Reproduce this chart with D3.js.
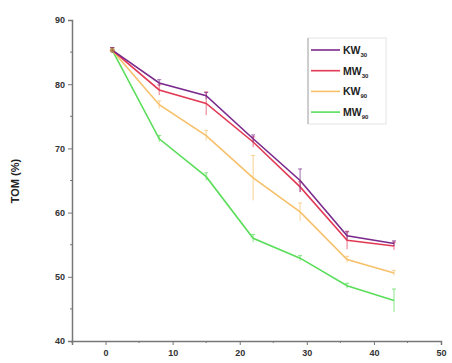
<!DOCTYPE html>
<html>
<head>
<meta charset="utf-8">
<script src="https://cdn.jsdelivr.net/npm/d3@7"></script>
<style>
  body { margin: 0; background: #fff; }
  text { font-family: "Liberation Sans", Arial, sans-serif; }
</style>
</head>
<body>
<div id="chart"></div>
<script>
// data
var days = [1, 8, 15, 22, 29, 36, 43]
var seriesNames = ["KW", "MW", "KW", "MW"]
var seriesSubs = ["30", "30", "90", "90"]
var kw30 = [85.3, 80.2, 78.2, 71.5, 65.0, 56.4, 55.2]
var mw30 = [85.3, 79.1, 77.0, 71.0, 64.0, 55.7, 54.8]
var kw90 = [85.3, 76.8, 72.0, 65.4, 60.1, 52.7, 50.6]
var mw90 = [85.3, 71.5, 65.6, 56.0, 52.9, 48.6, 46.3]
var kw30err = [0.4, 0.5, 0.5, 0.6, 1.8, 0.6, 0.4]
var mw30err = [0.4, 0.8, 1.8, 0.8, 0.8, 1.4, 0.6]
var kw90err = [0.4, 0.6, 0.8, 3.5, 1.4, 0.5, 0.4]
var mw90err = [0.4, 0.5, 0.6, 0.6, 0.4, 0.4, 1.8]
var colors = ["#7a2a8c", "#e23a55", "#f7c06a", "#5ade5a"]
var xTicks = [0, 10, 20, 30, 40, 50]
var yTicks = [40, 50, 60, 70, 80, 90]

var width = 452
    height = 363

var svg = d3.select("#chart")
    .append("svg")
        .attr("width", width)
        .attr("height", height)

var x = d3.scaleLinear().domain([-5, 50]).range([72, 441])
var y = d3.scaleLinear().domain([40, 90]).range([341, 20])

var axisColor = "#777"

// y axis
var yAxis = svg.append("g")
    .attr("transform", "translate(72,0)")
    .call(d3.axisLeft(y).tickValues(yTicks).tickSize(4).tickPadding(3))
yAxis.append("g").selectAll("line")
    .data([45, 55, 65, 75, 85])
    .enter().append("line")
        .attr("x1", -2).attr("x2", 0)
        .attr("y1", function(d){ return y(d) })
        .attr("y2", function(d){ return y(d) })

// x axis
var xAxis = svg.append("g")
    .attr("transform", "translate(0,341)")
    .call(d3.axisBottom(x).tickValues(xTicks).tickSize(4).tickPadding(5))
xAxis.append("g").selectAll("line")
    .data([-5, 5, 15, 25, 35, 45])
    .enter().append("line")
        .attr("y1", 0).attr("y2", 2)
        .attr("x1", function(d){ return x(d) })
        .attr("x2", function(d){ return x(d) })

svg.selectAll(".domain").attr("stroke", axisColor).attr("stroke-width", 1.5)
svg.selectAll(".tick line").attr("stroke", axisColor)
svg.selectAll("g g line").attr("stroke", axisColor)
svg.selectAll(".tick text")
    .attr("font-size", "9px")
    .attr("font-weight", "bold")
    .attr("fill", "#333")

svg.append("text")
    .attr("transform", "translate(19," + 181 + ") rotate(-90)")
    .attr("text-anchor", "middle")
    .attr("font-size", "11px")
    .attr("font-weight", "bold")
    .attr("fill", "#222")
    .text("TOM (%)")

// lines, drawn back to front
var allSeries = [kw30, mw30, kw90, mw90]
var allErr = [kw30err, mw30err, kw90err, mw90err]
var line = d3.line()
    .x(function(d, i){ return x(days[i]) })
    .y(function(d){ return y(d) })

for (var s = 3; s >= 0; s--) {
    var g = svg.append("g")
    g.append("path")
        .attr("d", line(allSeries[s]))
        .attr("fill", "none")
        .attr("stroke", colors[s])
        .attr("stroke-width", 1.6)
    // error bars
    var vals = allSeries[s]
    var errs = allErr[s]
    g.selectAll("line.err")
        .data(vals)
        .enter().append("line")
            .attr("x1", function(d, i){ return x(days[i]) })
            .attr("x2", function(d, i){ return x(days[i]) })
            .attr("y1", function(d, i){ return y(d - errs[i]) })
            .attr("y2", function(d, i){ return y(d + errs[i]) })
            .attr("stroke", colors[s])
            .attr("stroke-width", 1)
            .attr("opacity", 0.7)
    g.selectAll("line.cap")
        .data(vals)
        .enter().append("line")
            .attr("x1", function(d, i){ return x(days[i]) - 2 })
            .attr("x2", function(d, i){ return x(days[i]) + 2 })
            .attr("y1", function(d, i){ return y(d + errs[i]) })
            .attr("y2", function(d, i){ return y(d + errs[i]) })
            .attr("stroke", colors[s])
            .attr("stroke-width", 1)
            .attr("opacity", 0.7)
}

// starting point marker
svg.append("circle")
    .attr("cx", x(days[0]))
    .attr("cy", y(kw30[0]))
    .attr("r", 2.5)
    .attr("fill", "#b08040")
    .attr("opacity", 0.8)

// legend
var legend = svg.append("g")
legend.append("rect")
    .attr("x", 308).attr("y", 38)
    .attr("width", 78).attr("height", 86)
    .attr("fill", "none")
    .attr("stroke", "#e4e4e4")
    .attr("stroke-width", 1)
legend.append("line")
    .attr("x1", 308).attr("x2", 308)
    .attr("y1", 38).attr("y2", 124)
    .attr("stroke", "#aaa")
var rows = legend.selectAll("g.row")
    .data(seriesNames)
    .enter().append("g")
        .attr("transform", function(d, i){ return "translate(0," + (50 + i * 20.7) + ")" })
rows.append("line")
    .attr("x1", 311).attr("x2", 340)
    .attr("y1", 0).attr("y2", 0)
    .attr("stroke", function(d, i){ return colors[i] })
    .attr("stroke-width", 1.6)
var lt = rows.append("text")
    .attr("x", 343)
    .attr("y", 4)
    .attr("font-size", "10.5px")
    .attr("font-weight", "bold")
    .attr("fill", "#222")
lt.append("tspan").text(function(d){ return d })
lt.append("tspan")
    .attr("font-size", "6px")
    .attr("dy", 3)
    .text(function(d, i){ return seriesSubs[i] })
</script>
</body>
</html>
